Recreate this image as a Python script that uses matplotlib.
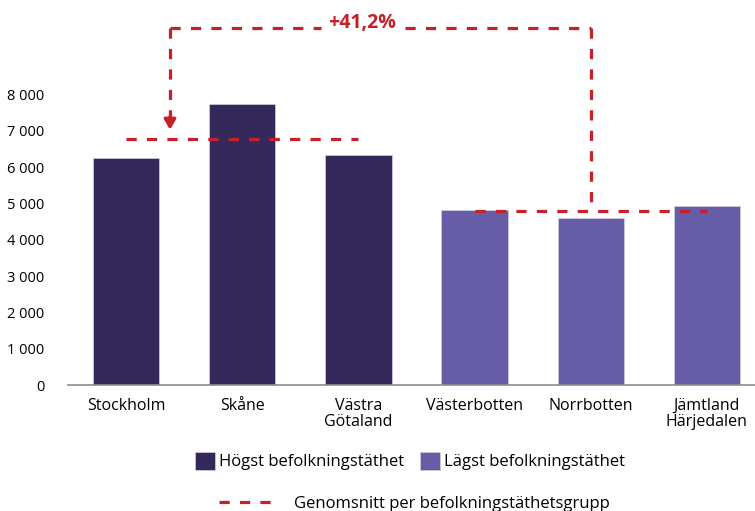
import matplotlib
matplotlib.use("Agg")
import matplotlib.pyplot as plt
from matplotlib.patches import Patch
from matplotlib.lines import Line2D

plt.rcParams['font.family'] = ['Open Sans', 'DejaVu Sans']

categories = ["Stockholm", "Skåne", "Västra\nGötaland", "Västerbotten", "Norrbotten", "Jämtland\nHärjedalen"]
values = [6250, 7740, 6340, 4820, 4600, 4930]
groups = ["high", "high", "high", "low", "low", "low"]
yticks = [0, 1000, 2000, 3000, 4000, 5000, 6000, 7000, 8000]
ytick_labels = ["0", "1 000", "2 000", "3 000", "4 000", "5 000", "6 000", "7 000", "8 000"]
label_high = "Högst befolkningstäthet"
label_low = "Lägst befolkningstäthet"
label_avg = "Genomsnitt per befolkningstäthetsgrupp"
diff_label = "+41,2%"

c_high = "#35285A"
c_low = "#675DA6"
c_red = "#C8202A"

W, H = 755, 511
fig = plt.figure(figsize=(W / 100, H / 100), dpi=100)
ax = fig.add_axes([68 / W, 1 - 385 / H, (755 - 68) / W, (385 - 20) / H])

x = list(range(len(categories)))
colors = [c_high if g == "high" else c_low for g in groups]
ax.bar(x, values, width=0.57, color=colors, edgecolor="#d0cde0", linewidth=0.5)

ax.set_xlim(-0.5, 5.414)
ax.set_ylim(0, 10055)
ax.set_yticks(yticks)
ax.set_yticklabels(ytick_labels, fontsize=10.5)
ax.set_xticks(x)
ax.set_xticklabels(categories, fontsize=11.5, linespacing=1.0)
ax.tick_params(axis="both", length=0)
ax.tick_params(axis="y", pad=17)
ax.tick_params(axis="x", pad=9)
for s in ["top", "right", "left"]:
    ax.spines[s].set_visible(False)
ax.spines["bottom"].set_color("#8c8c8c")
ax.spines["bottom"].set_linewidth(1.2)

high_vals = [v for v, g in zip(values, groups) if g == "high"]
low_vals = [v for v, g in zip(values, groups) if g == "low"]
avg_high = sum(high_vals) / len(high_vals)
avg_low = sum(low_vals) / len(low_vals)

dash = (0, (3.2, 3.2))
ax.plot([0, 2], [avg_high, avg_high], color=c_red, lw=2.3, linestyle=dash)
ax.plot([3, 5], [avg_low, avg_low], color=c_red, lw=2.3, linestyle=dash)

top_y = 9830
xl, xr = 0.378, 4.0
ax.plot([xl, 1.68], [top_y, top_y], color=c_red, lw=2.3, linestyle=dash)
ax.plot([2.4, xr], [top_y, top_y], color=c_red, lw=2.3, linestyle=dash)
ax.plot([xl, xl], [top_y, avg_high + 600], color=c_red, lw=2.3, linestyle=dash)
ax.plot([xr, xr], [top_y, avg_low], color=c_red, lw=2.3, linestyle=dash)
ax.annotate("", xy=(xl, avg_high + 180), xytext=(xl, avg_high + 700),
            arrowprops=dict(arrowstyle="-|>,head_length=0.6,head_width=0.35", color=c_red, lw=2.3))
ax.text(2.03, top_y + 130, diff_label, color=c_red, fontsize=14, fontweight="bold",
        ha="center", va="center")

h1 = Patch(facecolor=c_high, edgecolor="#d0cde0", linewidth=0.5)
h2 = Patch(facecolor=c_low, edgecolor="#d0cde0", linewidth=0.5)
fig.legend([h1, h2], [label_high, label_low], loc="center", bbox_to_anchor=(410 / W, 1 - 461 / H),
           ncol=2, frameon=False, fontsize=12, handlelength=1.2, handleheight=1.3,
           handletextpad=0.2, columnspacing=1.0)
l1 = Line2D([0], [0], color=c_red, lw=2.3, linestyle=(0, (3.2, 3.2)))
fig.legend([l1], [label_avg], loc="center", bbox_to_anchor=(414 / W, 1 - 504 / H),
           frameon=False, fontsize=12, handlelength=3.6, handletextpad=0.9)

fig.savefig("out.png", dpi=100)
